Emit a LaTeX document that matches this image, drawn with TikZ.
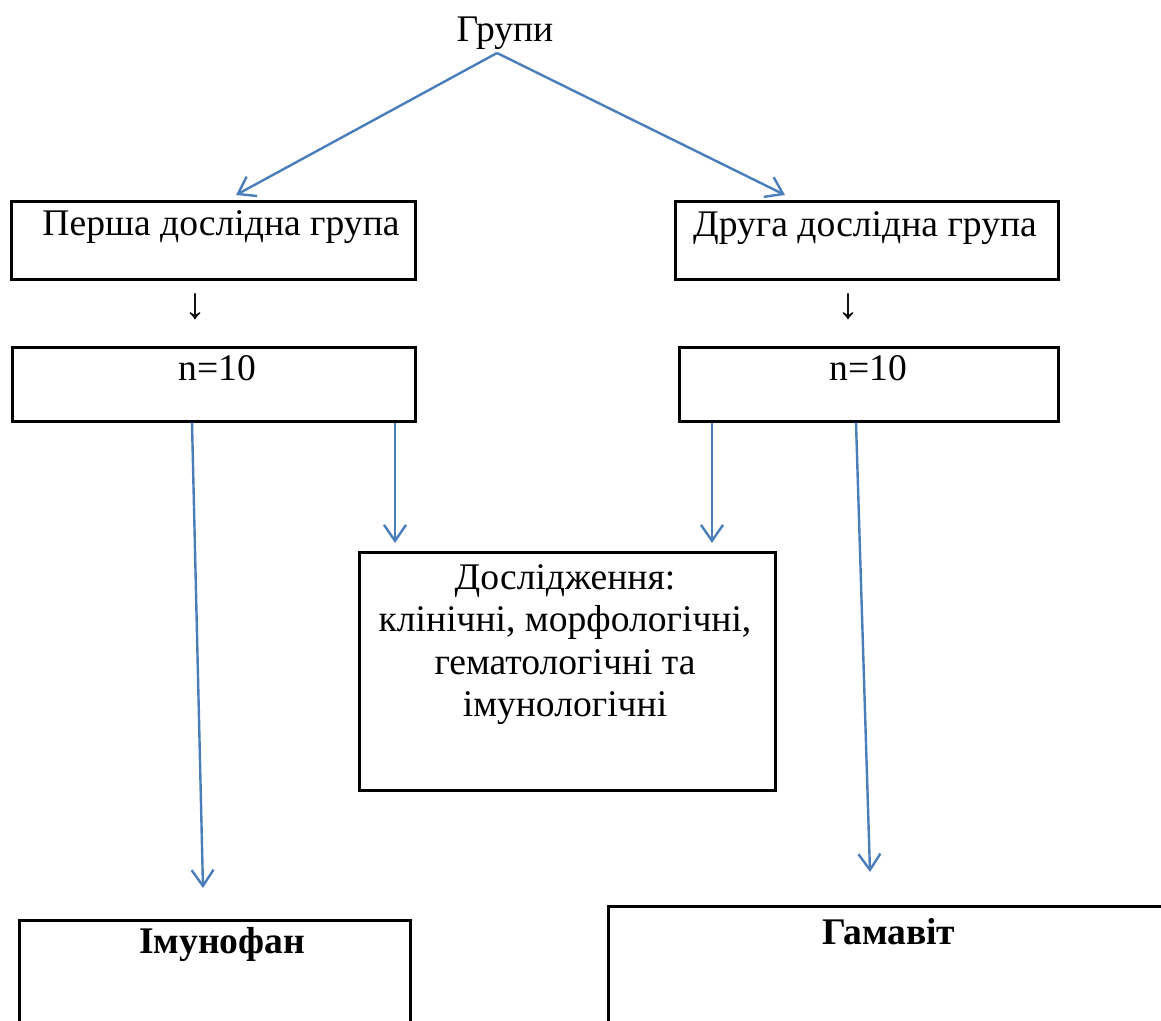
\documentclass[tikz,border=0pt]{standalone}
\usepackage{fontspec}
\setmainfont{Liberation Serif}
\usetikzlibrary{arrows.meta,positioning}
\definecolor{flowblue}{HTML}{4A7EBB}

\begin{document}
\begin{tikzpicture}[
		x=0.5pt,y=-0.5pt,
		box/.style={
			draw,
			line width=1.3pt,
			inner sep=0pt,
			anchor=north west,
		},
		txt/.style={
			inner sep=0pt,
			anchor=base,
			font=\fontsize{18.8pt}{21.25pt}\selectfont,
		},
		down/.style={
			inner sep=0pt,
			font=\fontsize{22pt}{24pt}\selectfont,
		},
		flow/.style={
			draw=flowblue,
			line width=1.2pt,
			-{Straight Barb[length=8pt,width=11pt,line width=1.2pt]},
		},
		]
		\useasboundingbox (0,0) rectangle (1161,1021);
		\clip (0,0) rectangle (1161,1021);
		% Draw the top label and its two branches
		\node [txt] (groups) at (505,42) {Групи};
		\coordinate (apex) at (497,53);
		\coordinate (tipL) at (236,195);
		\coordinate (tipR) at (785,195);
		\draw[flow] (apex) -- (tipL);
		\draw[flow] (apex) -- (tipR);
		% Draw the group boxes
		\node [box,minimum width=202pt,minimum height=39pt] (box1) at (10,200) {};
		\node [txt] (lab1) at (221,236) {Перша дослідна група};
		\node [box,minimum width=191.5pt,minimum height=39pt] (box2) at (674,200) {};
		\node [txt] (lab2) at (865,237) {Друга дослідна група};
		% Draw the small arrows
		\node [down] (down1) at (195,307) {↓};
		\node [down] (down2) at (848,307) {↓};
		% Draw the count boxes
		\node [box,minimum width=201.5pt,minimum height=37pt] (box3) at (11,346) {};
		\node [txt] (count1) at (217,380) {n=10};
		\node [box,minimum width=189.5pt,minimum height=37pt] (box4) at (678,346) {};
		\node [txt] (count2) at (868,380) {n=10};
		% Draw the research box
		\node [box,minimum width=208pt,minimum height=119pt] (box5) at (358,551) {};
		\node [txt,align=center,anchor=north] (lab5) at (565,564) {Дослідження:\\клінічні, морфологічні,\\гематологічні та\\імунологічні};
		% Draw the drug boxes
		\node [box,minimum width=195.5pt,minimum height=100pt] (box6) at (18,919) {};
		\node [txt] (lab6) at (222,953) {\textbf{Імунофан}};
		\node [box,minimum width=300pt,minimum height=100pt] (box7) at (607,905) {};
		\node [txt] (lab7) at (889,944) {\textbf{Гамавіт}};
		% Draw the lower connectors
		\coordinate (e1) at (203,888);
		\coordinate (t1) at (395,543);
		\coordinate (t2) at (712,543);
		\coordinate (e2) at (870,872);
		\draw[flow] ([xshift=90.5pt]box3.south west) -- (e1);
		\draw[flow] (t1 |- box3.south) -- (t1);
		\draw[flow] (t2 |- box4.south) -- (t2);
		\draw[flow] ([xshift=89pt]box4.south west) -- (e2);
	\end{tikzpicture}
\end{document}
